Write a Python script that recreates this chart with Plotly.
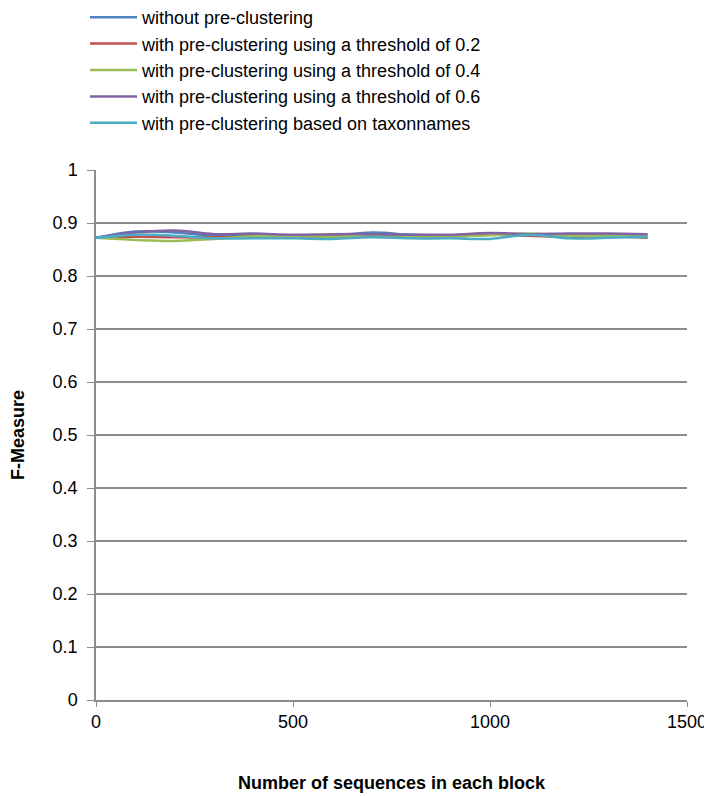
import plotly.graph_objects as go

# block sizes (x) and F-measure per method
block_sizes = [0, 100, 200, 300, 400, 500, 600, 700, 800, 900, 1000, 1100, 1200, 1300, 1400]

without_pre = [0.872, 0.884, 0.882, 0.876, 0.877, 0.876, 0.876, 0.882, 0.878, 0.877, 0.880, 0.878, 0.877, 0.878, 0.877]
thr_02 = [0.872, 0.874, 0.873, 0.873, 0.874, 0.873, 0.874, 0.875, 0.875, 0.874, 0.878, 0.876, 0.874, 0.875, 0.872]
thr_04 = [0.872, 0.868, 0.866, 0.870, 0.875, 0.876, 0.874, 0.877, 0.876, 0.875, 0.877, 0.880, 0.876, 0.876, 0.876]
thr_06 = [0.872, 0.882, 0.886, 0.879, 0.880, 0.878, 0.879, 0.879, 0.878, 0.878, 0.881, 0.879, 0.880, 0.880, 0.879]
taxon = [0.872, 0.878, 0.876, 0.871, 0.871, 0.871, 0.870, 0.873, 0.871, 0.871, 0.870, 0.878, 0.871, 0.872, 0.874]

series = [
    ("without pre-clustering", without_pre, "#4F81BD"),
    ("with pre-clustering using a threshold of 0.2", thr_02, "#C0504D"),
    ("with pre-clustering using a threshold of 0.4", thr_04, "#9BBB59"),
    ("with pre-clustering using a threshold of 0.6", thr_06, "#8064A2"),
    ("with pre-clustering based on taxonnames", taxon, "#4BACC6"),
]

fig = go.Figure()
for name, vals, color in series:
    fig.add_trace(go.Scatter(
        x=block_sizes, y=vals, name=name, mode="lines",
        line=dict(color=color, width=2.5, shape="spline", smoothing=1.0),
    ))

# page body has an 8px margin, so the figure is 8px smaller than the window
font = "Liberation Sans, Arial, sans-serif"
fig.update_layout(
    width=704, height=788,
    margin=dict(l=88, r=25, t=162, b=96, autoexpand=False),
    paper_bgcolor="white", plot_bgcolor="white",
    font=dict(family=font, size=18, color="black"),
    showlegend=True,
    legend=dict(
        x=-0.0186, y=1.3226, xanchor="left", yanchor="top",
        font=dict(size=18), tracegroupgap=0, itemwidth=47,
        bgcolor="rgba(0,0,0,0)",
    ),
)
fig.update_xaxes(
    range=[0, 1500], tickvals=[0, 500, 1000, 1500],
    showgrid=False, zeroline=False, automargin=False,
    showline=True, linecolor="#8c8c8c", linewidth=1.5,
    ticks="outside", ticklen=5, tickcolor="#8c8c8c",
    ticklabelstandoff=0, tickfont=dict(size=18),
    title=dict(text="<b>Number of sequences in each block</b>", font=dict(size=18), standoff=45),
)
fig.update_yaxes(
    range=[0, 1], dtick=0.1, tickformat="~g",
    showgrid=True, gridcolor="#8c8c8c", gridwidth=1.5,
    zeroline=False, showline=True, linecolor="#8c8c8c", linewidth=1.5,
    ticks="outside", ticklen=7, tickcolor="#8c8c8c", automargin=False,
    ticklabelstandoff=6, tickfont=dict(size=18),
    title=dict(text="<b>F-Measure</b>", font=dict(size=18), standoff=34),
)

fig.write_html("out.html")
